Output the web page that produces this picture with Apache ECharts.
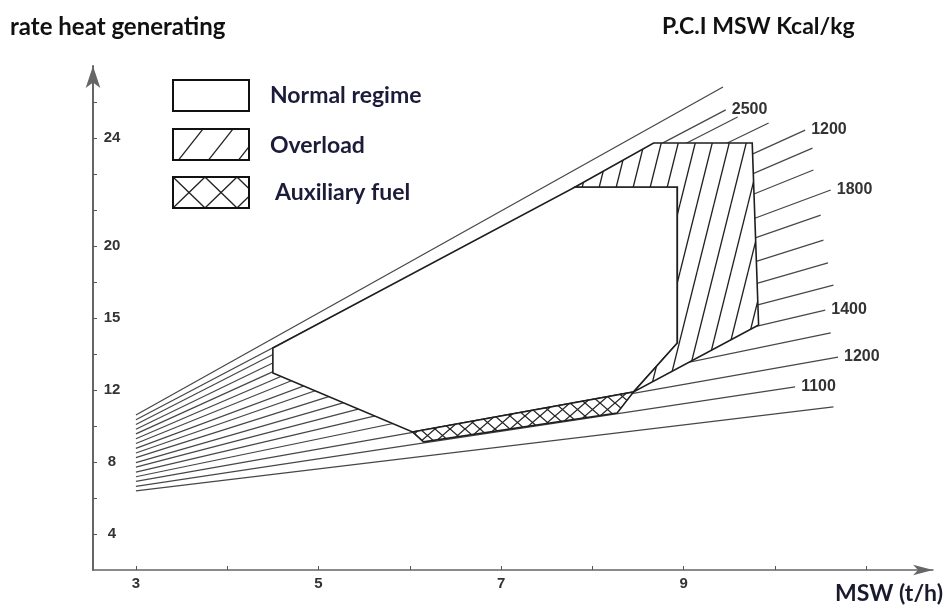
<!DOCTYPE html>
<html>
<head>
<meta charset="utf-8">
<script src="https://cdn.jsdelivr.net/npm/echarts@6/dist/echarts.min.js"></script>
<style>
  html, body { margin: 0; padding: 0; background: #ffffff; }
  #chart { width: 944px; height: 606px; }
</style>
</head>
<body>
<div id="chart"></div>
<script>
// Constant-PCI lines: each starts at MSW = 3 t/h and ends at its own point
const lineStartX = 3;
const lineStartY = [10.61, 10.35, 10.08, 9.82, 9.56, 9.29, 9.03, 8.76, 8.50, 8.24, 7.97, 7.71, 7.44, 7.18, 6.92, 6.65, 6.39];
const lineEndX   = [9.43, 9.46, 9.59, 9.93, 10.33, 10.41, 10.42, 10.61, 10.50, 10.53, 10.58, 10.64, 10.55, 10.61, 10.69, 10.22, 10.64];
const lineEndY   = [28.83, 27.56, 27.17, 26.83, 26.44, 25.44, 24.22, 23.11, 21.72, 20.33, 19.06, 17.83, 16.44, 15.17, 13.83, 12.17, 11.06];
const lineLabels = ['', '2500', '', '', '1200', '', '', '1800', '', '', '', '', '1400', '', '1200', '1100', ''];

// Operating regions (MSW t/h, heat rate)
const normalRegime  = [[4.50, 14.33], [7.81, 23.28], [8.93, 23.28], [8.93, 14.61], [8.45, 11.89], [6.03, 9.67], [4.50, 12.94]];
const overload      = [[7.81, 23.28], [8.67, 25.72], [9.75, 25.72], [9.82, 15.61], [8.45, 11.89], [8.93, 14.61], [8.93, 23.28]];
const auxiliaryFuel = [[6.03, 9.67], [8.45, 11.89], [8.27, 10.72], [6.15, 9.12]];

// Axis ticks and labels
const xTicks = [3, 4, 5, 6, 7, 8, 9, 10, 11];
const xTickLabels = [3, 5, 7, 9];
const yTicks = [4, 6, 8, 10, 12, 14, 16, 18, 20, 22, 24, 26, 28];
const yTickValues = [4, 8, 12, 16, 20, 26];
const yTickTexts  = ['4', '8', '12', '15', '20', '24'];

const legendNames = ['Normal regime', 'Overload', 'Auxiliary fuel'];

// Hatch tiles drawn on small canvases and used as repeating fills
function makeTile(w, h, draw) {
  const c = document.createElement('canvas');
  c.width = w; c.height = h;
  const ctx = c.getContext('2d');
  ctx.fillStyle = '#ffffff';
  ctx.fillRect(0, 0, w, h);
  ctx.strokeStyle = '#222222';
  ctx.lineWidth = 1.3;
  draw(ctx, w, h);
  return c;
}
function diagTile(w, h) {
  return makeTile(w, h, (ctx) => {
    for (const dx of [-w, 0, w]) {
      ctx.beginPath(); ctx.moveTo(dx, h); ctx.lineTo(dx + w, 0); ctx.stroke();
    }
  });
}
function crossTile(w, h) {
  return makeTile(w, h, (ctx) => {
    for (const dx of [-w, 0, w]) {
      ctx.beginPath(); ctx.moveTo(dx, h); ctx.lineTo(dx + w, 0); ctx.stroke();
      ctx.beginPath(); ctx.moveTo(dx, 0); ctx.lineTo(dx + w, h); ctx.stroke();
    }
  });
}
const overloadFill   = { image: diagTile(17, 68), repeat: 'repeat' };
const auxFill        = { image: crossTile(15, 13), repeat: 'repeat' };
const legendOverFill = { image: diagTile(30, 38), repeat: 'repeat' };
const legendAuxFill  = { image: crossTile(32, 31), repeat: 'repeat' };

const LINE_COLOR = '#474747';
const EDGE_COLOR = '#1e1e1e';
const LABEL_FONT = 'Liberation Sans';
const TEXT_FONT = 'Lato';

const fanSeries = lineStartY.map((y0, i) => ({
  type: 'line',
  z: 2,
  silent: true,
  symbol: 'none',
  animation: false,
  data: [[lineStartX, y0], [lineEndX[i], lineEndY[i]]],
  lineStyle: { color: LINE_COLOR, width: 1.25 },
  endLabel: {
    show: lineLabels[i] !== '',
    formatter: () => lineLabels[i],
    distance: 6,
    fontFamily: LABEL_FONT,
    fontSize: 16,
    fontWeight: 'bold',
    color: '#333333'
  }
}));

function regionSeries(name, pts, fill) {
  return {
    type: 'custom',
    name: name,
    z: 3,
    silent: true,
    animation: false,
    clip: false,
    data: [0],
    renderItem: (params, api) => ({
      type: 'polygon',
      shape: { points: pts.map(p => api.coord(p)) },
      style: { fill: fill, stroke: EDGE_COLOR, lineWidth: 1.6, lineJoin: 'miter' }
    })
  };
}

const chart = echarts.init(document.getElementById('chart'), null, { renderer: 'canvas' });

const legendBox = (y, fill) => ({
  type: 'rect',
  x: 173, y: y,
  shape: { x: 0, y: 0, width: 76, height: 31 },
  style: { fill: fill, stroke: '#111111', lineWidth: 2 }
});
const legendText = (x, y, text) => ({
  type: 'text',
  x: x, y: y,
  style: { text: text, fontFamily: TEXT_FONT, fontSize: 23, fontWeight: 'bold', fill: '#1c1c3a', verticalAlign: 'middle' }
});

chart.setOption({
  animation: false,
  backgroundColor: '#ffffff',
  grid: { left: 93, right: 11, top: 66, bottom: 36, containLabel: false },
  xAxis: {
    type: 'value',
    min: 2.53,
    max: 11.73,
    axisLine: { onZero: false, lineStyle: { color: '#666666', width: 1.5 }, symbol: ['none', 'arrow'], symbolSize: [8, 20] },
    axisTick: { show: true, inside: true, length: 4, lineStyle: { color: '#555555' }, customValues: xTicks },
    axisLabel: { customValues: xTickLabels, margin: 6, fontFamily: LABEL_FONT, fontSize: 15, fontWeight: 'bold', color: '#333333' },
    splitLine: { show: false }
  },
  yAxis: {
    type: 'value',
    min: 2,
    max: 30,
    axisLine: { show: true, onZero: false, lineStyle: { color: '#666666', width: 2 }, symbol: ['none', 'arrow'], symbolSize: [11, 22] },
    axisTick: { show: true, inside: true, length: 4, lineStyle: { color: '#555555' }, customValues: yTicks },
    axisLabel: {
      inside: true,
      margin: 19,
      align: 'center',
      customValues: yTickValues,
      formatter: v => yTickTexts[yTickValues.indexOf(v)] || '',
      fontFamily: LABEL_FONT, fontSize: 15, fontWeight: 'bold', color: '#333333'
    },
    splitLine: { show: false }
  },
  graphic: [
    { type: 'text', x: 10, y: 27, style: { text: 'rate heat generating', fontFamily: TEXT_FONT, fontSize: 24, fontWeight: 'bold', fill: '#111111', verticalAlign: 'middle' } },
    { type: 'text', x: 662, y: 27, style: { text: 'P.C.I MSW Kcal/kg', fontFamily: TEXT_FONT, fontSize: 23, fontWeight: 'bold', fill: '#111111', verticalAlign: 'middle' } },
    { type: 'text', x: 943, y: 594, style: { text: 'MSW (t/h)', fontFamily: TEXT_FONT, fontSize: 23, fontWeight: 'bold', fill: '#1a1a2e', align: 'right', verticalAlign: 'middle' } },
    legendBox(80, '#ffffff'),
    legendBox(129, legendOverFill),
    legendBox(177, legendAuxFill),
    legendText(270, 96, legendNames[0]),
    legendText(270, 146, legendNames[1]),
    legendText(275, 193, legendNames[2])
  ],
  series: fanSeries.concat([
    regionSeries('Normal regime', normalRegime, '#ffffff'),
    regionSeries('Overload', overload, overloadFill),
    regionSeries('Auxiliary fuel', auxiliaryFuel, auxFill)
  ])
});
</script>
</body>
</html>
